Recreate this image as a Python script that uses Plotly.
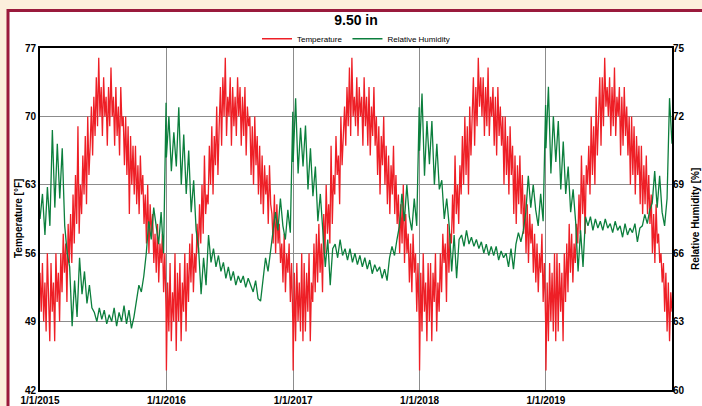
import pandas as pd
import plotly.graph_objects as go

years = [2015, 2016, 2017, 2018, 2019]
tick_labels = ["1/1/2015", "1/1/2016", "1/1/2017", "1/1/2018", "1/1/2019"]

# Twice-weekly readings (approx.), temperature in °F
temp_2015 = [54, 50, 55, 49, 53, 48, 56, 51, 47,
             55, 50, 53, 47, 56, 51, 54, 49,
             56, 52, 58, 54, 57, 51, 59, 55, 60,
             55, 62, 57, 64, 59, 69, 58, 63,
             60, 66, 62, 68, 61, 70, 64, 67, 71,
             66, 72, 68, 74, 69, 76, 70, 73,
             68, 74, 70, 72, 67, 73, 69, 75, 70,
             72, 67, 73, 68, 71, 66, 73, 69, 70,
             65, 70, 64, 69, 60, 68, 63, 67,
             62, 67, 61, 65, 60, 66, 62, 64, 59,
             62, 57, 63, 56, 61, 58, 60, 55,
             58, 54, 59, 53, 57, 55, 58, 52, 56, 50]
temp_2016 = [44, 53, 48, 55, 47, 52, 49, 56, 46,
             54, 49, 55, 47, 53, 50, 56, 48,
             55, 51, 57, 53, 58, 52, 56, 54, 59,
             56, 61, 57, 63, 58, 66, 60, 62,
             61, 67, 63, 69, 62, 68, 65, 71, 64,
             69, 73, 67, 74, 70, 76, 68, 72,
             70, 74, 67, 73, 69, 72, 68, 74, 70,
             73, 67, 72, 68, 73, 66, 71, 69, 70,
             64, 69, 63, 70, 65, 68, 62, 67,
             61, 66, 60, 65, 62, 64, 59, 65, 61,
             60, 57, 62, 56, 61, 57, 59, 55,
             57, 53, 58, 52, 56, 54, 57, 51, 55, 49]
temp_2017 = [44, 54, 47, 55, 49, 53, 48, 56, 47,
             55, 48, 54, 50, 56, 47, 53, 51,
             57, 52, 58, 53, 59, 54, 57, 52, 60,
             56, 63, 58, 61, 57, 67, 59, 64,
             62, 68, 64, 66, 61, 70, 65, 68, 71,
             67, 73, 69, 75, 68, 76, 70, 72,
             69, 74, 68, 73, 70, 72, 67, 74, 69,
             72, 67, 73, 66, 71, 68, 73, 67, 70,
             64, 69, 62, 68, 65, 70, 63, 67,
             61, 66, 60, 65, 62, 67, 60, 64, 59,
             62, 56, 61, 57, 63, 55, 60, 56,
             58, 53, 57, 52, 58, 54, 56, 50, 55, 49]
temp_2018 = [44, 54, 48, 56, 50, 53, 47, 55, 49,
             55, 47, 54, 51, 56, 48, 53, 50,
             56, 52, 58, 55, 57, 51, 59, 54, 58,
             57, 62, 58, 66, 60, 63, 59, 65,
             62, 68, 63, 70, 64, 69, 62, 71, 66,
             70, 74, 67, 73, 69, 76, 71, 74,
             70, 74, 68, 73, 69, 75, 68, 72, 70,
             73, 67, 72, 66, 73, 68, 71, 67, 70,
             63, 70, 64, 68, 62, 69, 64, 67,
             60, 66, 59, 65, 61, 66, 60, 64, 58,
             62, 56, 61, 55, 60, 57, 59, 54,
             58, 53, 57, 52, 56, 54, 58, 51, 55, 49]
temp_2019 = [44, 53, 47, 55, 49, 54, 48, 56, 47,
             56, 48, 55, 50, 54, 47, 56, 51,
             57, 52, 59, 54, 58, 53, 57, 55, 59,
             57, 62, 58, 66, 60, 64, 58, 65,
             63, 67, 62, 70, 64, 69, 63, 72, 66,
             70, 74, 67, 74, 69, 76, 71, 73,
             70, 74, 68, 73, 69, 75, 68, 72, 70,
             73, 66, 72, 67, 73, 68, 71, 66, 70,
             63, 70, 64, 69, 62, 68, 64, 67,
             61, 67, 60, 65, 61, 66, 60, 64, 59,
             62, 56, 60, 55, 61, 57, 58, 55,
             56, 53, 55, 50, 54, 48, 53, 47, 52, 50]

# Weekly readings (approx.), relative humidity in %
rh_2015 = [67.5, 68.6, 66.8, 68.9, 67.2, 71.4, 68.0, 70.8, 68.4, 70.6, 67.2, 66.0, 65.4,
           62.8, 64.8, 63.2, 65.8, 64.2, 65.2, 63.8, 64.6, 63.6, 63.4, 63.0, 63.6, 63.1,
           63.5, 62.9, 63.3, 63.0, 63.6, 62.8, 63.4, 63.0, 63.7, 62.9, 63.5, 62.7, 63.2,
           64.0, 64.6, 64.3, 65.0, 66.0, 67.4, 66.6, 68.0, 67.2, 66.4, 67.8, 66.0, 72.6]
rh_2016 = [70.2, 72.0, 69.6, 71.3, 69.8, 72.4, 69.0, 71.2, 68.6, 70.5, 67.8, 69.2, 67.0,
           66.2, 64.2, 65.8, 64.6, 66.8, 65.6, 66.2, 65.4, 65.9, 65.2, 65.6, 64.9, 65.4,
           64.8, 65.2, 64.6, 65.0, 64.7, 65.0, 64.5, 64.9, 64.6, 64.3, 64.8, 64.0, 63.9,
           65.0, 65.8, 65.2, 66.0, 66.8, 67.8, 67.0, 68.4, 67.2, 66.6, 67.9, 66.9, 72.2]
rh_2017 = [70.0, 72.8, 69.5, 71.5, 69.8, 71.6, 68.8, 70.6, 68.5, 69.8, 67.4, 68.6, 67.0,
           65.4, 66.6, 64.6, 66.2, 66.4, 65.8, 66.6, 65.9, 66.2, 65.7, 66.2, 65.6, 66.0,
           65.5, 65.9, 65.4, 65.8, 65.3, 65.7, 65.1, 65.5, 65.2, 65.4, 64.9, 65.3, 64.8,
           65.8, 66.3, 65.9, 66.6, 67.2, 68.6, 67.4, 69.0, 67.6, 67.0, 68.4, 67.2, 72.4]
rh_2018 = [70.5, 73.0, 69.4, 71.8, 69.9, 71.8, 69.0, 70.8, 68.8, 69.2, 67.5, 68.4, 67.2,
           65.2, 66.8, 64.9, 66.6, 66.8, 66.3, 67.0, 66.4, 66.7, 66.3, 66.6, 66.2, 66.5,
           66.0, 66.4, 65.9, 66.3, 65.9, 66.3, 65.7, 66.1, 65.8, 66.0, 65.4, 66.2, 65.3,
           66.4, 66.9, 66.5, 67.0, 67.8, 69.4, 68.0, 69.0, 67.9, 67.2, 68.6, 67.4, 72.5]
rh_2019 = [70.6, 73.3, 69.5, 72.0, 70.0, 71.8, 68.8, 70.9, 68.6, 69.8, 67.8, 68.8, 67.4,
           65.2, 67.0, 65.4, 67.6, 67.2, 67.6, 67.0, 67.5, 67.1, 67.4, 67.0, 67.5, 67.1,
           67.3, 66.9, 67.4, 67.0, 67.2, 66.7, 67.3, 66.8, 67.1, 66.9, 67.3, 66.5, 67.1,
           67.2, 67.7, 67.3, 67.9, 68.2, 69.6, 68.0, 69.4, 67.8, 67.2, 68.4, 72.8, 70.8]

temp_by_year = [temp_2015, temp_2016, temp_2017, temp_2018, temp_2019]
rh_by_year = [rh_2015, rh_2016, rh_2017, rh_2018, rh_2019]

t_dates, temps, r_dates, rhs = [], [], [], []
for yr, t, r in zip(years, temp_by_year, rh_by_year):
    t_dates.extend(list(pd.date_range(f"{yr}-01-01", f"{yr}-12-31", periods=len(t))))
    r_dates.extend(list(pd.date_range(f"{yr}-01-01", f"{yr}-12-31", periods=len(r))))
    temps.extend(t)
    rhs.extend(r)

RED = "#ee1f26"
GREEN = "#0c7f3d"
NARROW = "Liberation Sans Narrow, Arial Narrow, Liberation Sans, Arial"

fig = go.Figure()
fig.add_trace(go.Scatter(x=t_dates, y=temps, mode="lines", name="Temperature",
                         line=dict(color=RED, width=1.3), yaxis="y"))
fig.add_trace(go.Scatter(x=r_dates, y=rhs, mode="lines", name="Relative Humidity",
                         line=dict(color=GREEN, width=1.3), yaxis="y2"))

tick_font = dict(family=NARROW, size=10, color="black", weight="bold")
title_font = dict(family=NARROW, size=10, color="black")

fig.update_layout(
    width=702, height=406,
    margin=dict(l=40, r=30, t=48, b=16, autoexpand=False),
    paper_bgcolor="#fcefdc",
    plot_bgcolor="white",
    showlegend=True,
    title=dict(text="<b>9.50 in</b>", x=0.5, xref="paper", xanchor="center",
               y=1 - 20 / 406, yanchor="middle",
               font=dict(family=NARROW, size=14, color="black")),
    legend=dict(orientation="h", x=0.5, xanchor="center", y=1.027, yanchor="middle",
                font=dict(family=NARROW, size=8, color="black"),
                bgcolor="rgba(0,0,0,0)", itemwidth=30, tracegroupgap=0),
    xaxis=dict(
        type="date", automargin=False,
        range=["2015-01-01", "2019-12-31"],
        tickvals=[f"{y}-01-01" for y in years],
        ticktext=tick_labels,
        tickfont=tick_font,
        showgrid=True, gridcolor="#8c8c8c", gridwidth=1,
        showline=True, linecolor="black", linewidth=2, mirror=True,
        ticks="", zeroline=False,
    ),
    yaxis=dict(
        automargin=False,
        range=[42, 77], tickvals=[42, 49, 56, 63, 70, 77],
        tickfont=tick_font,
        showgrid=True, gridcolor="#8c8c8c", gridwidth=1,
        showline=True, linecolor="black", linewidth=2, mirror=True,
        ticks="", zeroline=False,
    ),
    yaxis2=dict(
        automargin=False,
        range=[60, 75], tickvals=[60, 63, 66, 69, 72, 75],
        overlaying="y", side="right",
        tickfont=tick_font,
        showgrid=False, showline=False, ticks="", zeroline=False,
    ),
    annotations=[
        dict(text="<b>Temperature [°F]</b>", xref="paper", yref="paper",
             x=(18 - 40) / 632, y=0.5, textangle=-90, showarrow=False,
             xanchor="center", yanchor="middle", font=title_font),
        dict(text="<b>Relative Humidity [%]</b>", xref="paper", yref="paper",
             x=(695 - 40) / 632, y=0.5, textangle=-90, showarrow=False,
             xanchor="center", yanchor="middle", font=title_font),
    ],
    shapes=[dict(type="rect", xref="paper", yref="paper",
                 x0=(8 - 40) / 632, x1=2.0,
                 y0=-1.0, y1=(390 - 10.5) / 342,
                 line=dict(color="#9a1a3c", width=3), fillcolor="white", layer="below")],
)

fig.write_html(
    "out.html",
    config={"displayModeBar": False},
    post_script="document.body.style.margin='0';document.body.style.background='#fcefdc';",
)
